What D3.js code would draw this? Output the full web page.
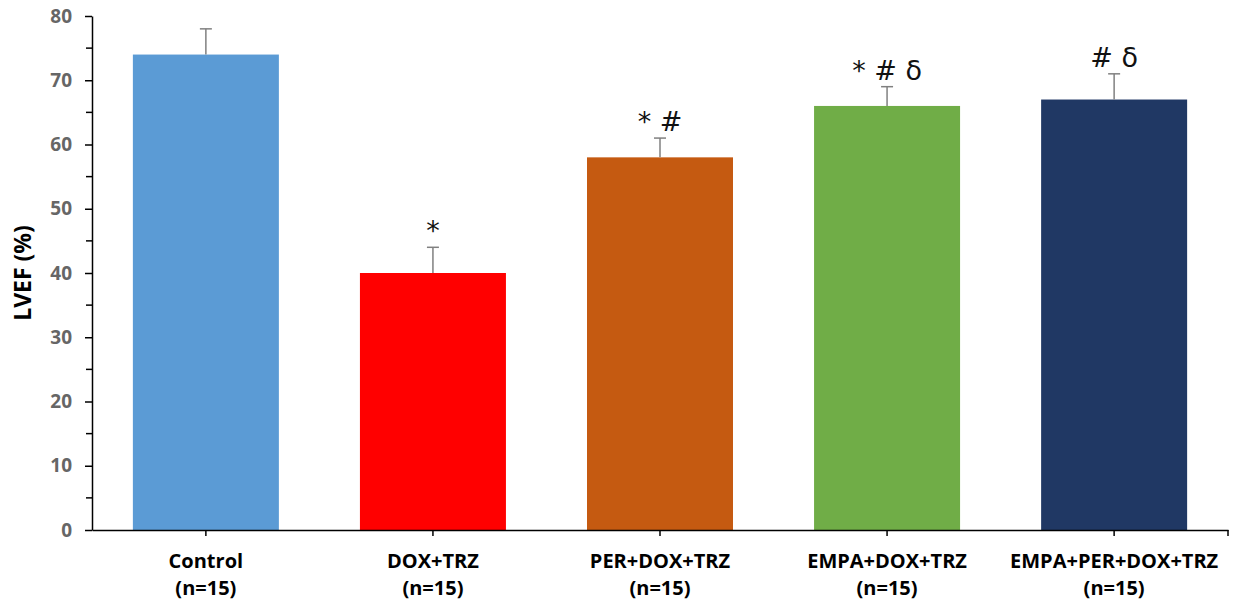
<!DOCTYPE html>
<html>
<head>
<meta charset="utf-8">
<script src="https://cdn.jsdelivr.net/npm/d3@7"></script>
<style>
  body { margin: 0; background: #fff; }
  svg { display: block; }
</style>
</head>
<body>
<div id="chart"></div>
<script>
// datos del gráfico
const grupos = ["Control", "DOX+TRZ", "PER+DOX+TRZ", "EMPA+DOX+TRZ", "EMPA+PER+DOX+TRZ"];
const nGrupo = ["(n=15)", "(n=15)", "(n=15)", "(n=15)", "(n=15)"];
const lvef = [74, 40, 58, 66, 67];
const errores = [4, 4, 3, 3, 4];
const marcas = ["", "*", "* #", "* # δ", "# δ"];
const colores = ["#5b9bd5", "#ff0000", "#c55a11", "#70ad47", "#203864"];
const ticksY = [0, 10, 20, 30, 40, 50, 60, 70, 80];

const ancho = 1233, alto = 607;
const m = { top: 16, right: 5, bottom: 77, left: 92 };

const svg = d3.select("#chart").append("svg")
  .attr("width", ancho).attr("height", alto);

const x = d3.scaleBand()
  .domain(grupos)
  .range([m.left, ancho - m.right])
  .paddingInner(0.357)
  .paddingOuter(0.18);

const y = d3.scaleLinear()
  .domain([0, 80])
  .range([alto - m.bottom, m.top]);

// barras
svg.selectAll("rect.barra")
  .data(grupos)
  .enter().append("rect")
  .attr("class", "barra")
  .attr("x", d => x(d))
  .attr("width", x.bandwidth())
  .attr("y", (d, i) => y(lvef[i]))
  .attr("height", (d, i) => y(0) - y(lvef[i]))
  .attr("fill", (d, i) => colores[i]);

// barras de error (solo hacia arriba)
const err = svg.append("g").attr("stroke", "#808080").attr("stroke-width", 1.5);
grupos.forEach((g, i) => {
  const cx = x(g) + x.bandwidth() / 2;
  err.append("line")
    .attr("x1", cx).attr("x2", cx)
    .attr("y1", y(lvef[i])).attr("y2", y(lvef[i] + errores[i]));
  err.append("line")
    .attr("x1", cx - 6).attr("x2", cx + 6)
    .attr("y1", y(lvef[i] + errores[i])).attr("y2", y(lvef[i] + errores[i]));
});

// marcas de significancia
svg.selectAll("text.marca")
  .data(grupos)
  .enter().append("text")
  .attr("class", "marca")
  .attr("x", d => x(d) + x.bandwidth() / 2)
  .attr("y", (d, i) => y(lvef[i] + errores[i]) - 7)
  .attr("text-anchor", "middle")
  .style("font-family", "'DejaVu Sans', sans-serif")
  .style("font-size", "27px")
  .style("fill", "#111")
  .style("white-space", "pre")
  .text((d, i) => marcas[i]);

// eje Y
const ejeY = svg.append("g")
  .attr("transform", `translate(${m.left},0)`)
  .call(d3.axisLeft(y).tickValues(ticksY).tickSize(7).tickSizeOuter(0).tickPadding(13));
ejeY.select(".domain").attr("stroke", "#000").attr("stroke-width", 1.5);
ejeY.selectAll(".tick line").attr("stroke", "#000").attr("stroke-width", 1.5);
ejeY.selectAll(".tick text")
  .style("font-family", "'Open Sans', sans-serif")
  .style("font-size", "19px")
  .style("font-weight", "bold")
  .style("fill", "#666");

// ticks menores (cada 5)
const menores = d3.range(5, 80, 10);
svg.append("g").selectAll("line")
  .data(menores)
  .enter().append("line")
  .attr("x1", m.left - 6).attr("x2", m.left)
  .attr("y1", d => y(d)).attr("y2", d => y(d))
  .attr("stroke", "#000").attr("stroke-width", 1.5);

// eje X
const ejeX = svg.append("g")
  .attr("transform", `translate(0,${y(0)})`)
  .call(d3.axisBottom(x).tickSize(6).tickSizeOuter(0).tickFormat(""));
ejeX.select(".domain").attr("stroke", "#000").attr("stroke-width", 1.5);
ejeX.selectAll(".tick line").attr("stroke", "#000").attr("stroke-width", 1.5);
svg.append("line")
  .attr("x1", ancho - m.right).attr("x2", ancho - m.right)
  .attr("y1", y(0)).attr("y2", y(0) + 6)
  .attr("stroke", "#000").attr("stroke-width", 1.5);

// etiquetas de categorías (dos líneas)
const etiq = svg.selectAll("text.cat")
  .data(grupos)
  .enter().append("text")
  .attr("class", "cat")
  .attr("text-anchor", "middle")
  .style("font-family", "'Open Sans', sans-serif")
  .style("font-size", "20px")
  .style("font-weight", "bold")
  .style("fill", "#000");
etiq.append("tspan")
  .attr("x", d => x(d) + x.bandwidth() / 2)
  .attr("y", 568)
  .text(d => d);
etiq.append("tspan")
  .attr("x", d => x(d) + x.bandwidth() / 2)
  .attr("y", 595)
  .text((d, i) => nGrupo[i]);

// título del eje Y
svg.append("text")
  .attr("transform", `translate(31,${(y(0) + y(80)) / 2}) rotate(-90)`)
  .attr("text-anchor", "middle")
  .style("font-family", "'Open Sans', sans-serif")
  .style("font-size", "23px")
  .style("font-weight", "bold")
  .text("LVEF (%)");
</script>
</body>
</html>
